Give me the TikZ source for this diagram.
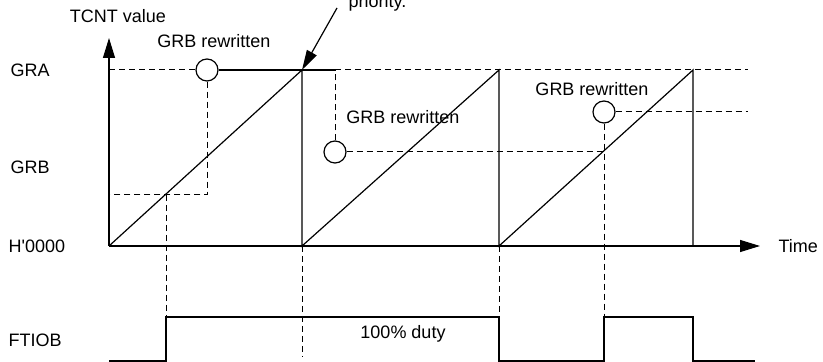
\documentclass[tikz,border=0pt]{standalone}
\usepackage{fontspec}
\newfontfamily\chartfont{Liberation Sans}
\usetikzlibrary{arrows.meta}

\begin{document}
\begin{tikzpicture}[
  x=0.5pt, y=-0.5pt, font=\chartfont\fontsize{9}{11}\selectfont, line width=0.6pt,
  level/.style={dash pattern=on 3pt off 2pt, line width=0.5pt},
  ring/.style={draw, circle, minimum size=11pt, inner sep=0pt, fill=white},
  lbl/.style={anchor=west, inner sep=0pt},
  axis/.style={-{Triangle[length=10pt,width=6pt]}},
  pointer/.style={-{Triangle[length=10pt,width=5.5pt]}}
]
\useasboundingbox (0,0) rectangle (823,362);
% counter levels and axes
\coordinate (o) at (109,246);
\coordinate (gra1) at (302,70);
\coordinate (gra2) at (499,70);
\coordinate (gra3) at (693,70);
\coordinate (ytop) at (109,38);
\coordinate (xend) at (760,246);
% rewrite points
\node[ring] (rw1) at (207,70) {};
\node[ring] (rw2) at (335,152) {};
\node[ring] (rw3) at (604,112) {};
% dashed levels
\draw[level] (109,70) -- (rw1.west);
\draw[level] (335,70) -- (748,70);
\draw[level] (rw1.south) -- (207,195) -- (109,195);
\draw[level] (rw2.north) -- (335,70);
\draw[level] (rw2.east) -- (604,152);
\draw[level] (rw3.east) -- (748,112);
\draw[level] (166,195) -- (166,317);
\draw[level] (302,246) -- (302,357);
\draw[level] (499,246) -- (499,317);
\draw[level] (rw3.south) -- (604,317);
\draw (rw1.east) -- (335,70);
% TCNT sawtooth
\draw (o) -- (gra1) -- (302,246) -- (gra2) -- (499,246) -- (gra3) -- (693,246);
\draw[axis] (o) -- (ytop);
\draw[axis] (o) -- (xend);
% FTIOB output
\draw (109,361) -- (166,361) -- (166,317) -- (499,317) -- (499,361)
  -- (604,361) -- (604,317) -- (693,317) -- (693,361) -- (755,361);
% labels
\node (tcnt) at (118,16) {TCNT value};
\node (txt1) at (214,41) {GRB rewritten};
\node (txt2) at (403,117) {GRB rewritten};
\node (txt3) at (592,89) {GRB rewritten};
\node (duty) at (403,334) {100\% duty};
\node[lbl] (time) at (778,246) {Time};
\node[lbl] (gra) at (10,70) {GRA};
\node[lbl] (grb) at (10,167) {GRB};
\node[lbl] (zero) at (8,246) {H'0000};
\node[lbl] (ftiob) at (8,340) {FTIOB};
\node[anchor=base west, inner sep=0pt] (prio) at (348,8) {priority.};
\coordinate (tail) at (337,8);
\draw[pointer] (tail) -- (gra1);
\end{tikzpicture}
\end{document}
